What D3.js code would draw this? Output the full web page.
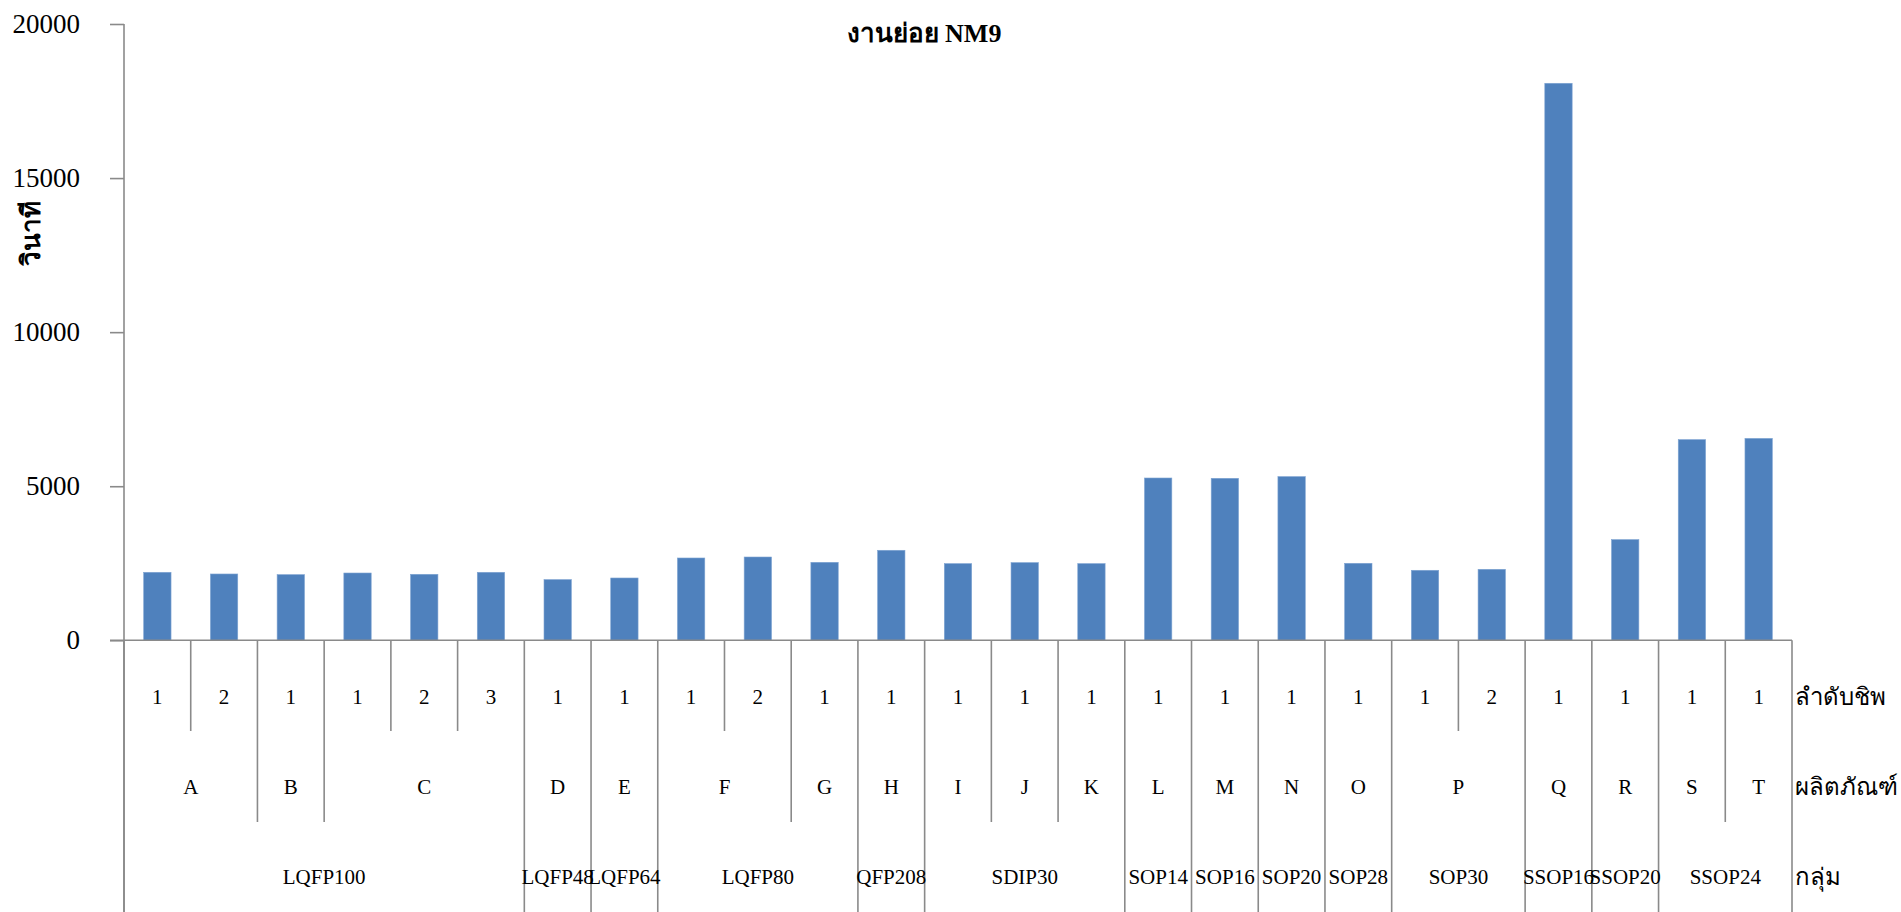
<!DOCTYPE html>
<html>
<head>
<meta charset="utf-8">
<script src="https://cdn.jsdelivr.net/npm/d3@7/dist/d3.min.js"></script>
<style>
  html, body { margin: 0; padding: 0; background: #ffffff; }
  svg { display: block; }
  text { font-family: "Liberation Serif", "Times New Roman", serif; fill: #000; }
</style>
</head>
<body>
<svg id="chart" width="1901" height="912"></svg>
<script>
// Work time per chip (seconds), one bar per chip
const chips    = ["1","2","1","1","2","3","1","1","1","2","1","1","1","1","1","1","1","1","1","1","2","1","1","1","1"];
const products = ["A","A","B","C","C","C","D","E","F","F","G","H","I","J","K","L","M","N","O","P","P","Q","R","S","T"];
const groups   = ["LQFP100","LQFP100","LQFP100","LQFP100","LQFP100","LQFP100","LQFP48","LQFP64",
                  "LQFP80","LQFP80","LQFP80","QFP208","SDIP30","SDIP30","SDIP30","SOP14","SOP16",
                  "SOP20","SOP28","SOP30","SOP30","SSOP16","SSOP20","SSOP24","SSOP24"];
const seconds  = [2207,2152,2131,2184,2142,2207,1970,2022,2671,2703,2531,2921,2489,2521,2489,
                  5267,5257,5312,2499,2272,2304,18076,3268,6513,6552];
const yTicks   = [0,5000,10000,15000,20000];
const levelNames = ["ลำดับชิพ","ผลิตภัณฑ์","กลุ่ม"];
const titleText  = "งานย่อย NM9";
const yTitle     = "วินาที";

const svg = d3.select("#chart");
const W = 1901, H = 912;
const plotLeft = 124, plotRight = 1792, plotTop = 24, plotBase = 640.3;
const axisColor = "#8a8a8a";
const barColor = "#4f81bd";
const serif = '"Liberation Serif", "Times New Roman", serif';

const idx = d3.range(seconds.length);
const slot = d3.scaleBand().domain(idx).range([plotLeft, plotRight]).padding(0);
const x = d3.scaleBand().domain(idx).range([plotLeft, plotRight]).paddingInner(0.59).paddingOuter(0.295);
const y = d3.scaleLinear().domain([0, 20000]).range([plotBase, plotTop]);

// title
svg.append("text")
  .attr("x", 924).attr("y", 42)
  .attr("text-anchor", "middle")
  .style("font-size", "26px").style("font-weight", "bold")
  .text(titleText);

// y-axis title
svg.append("text")
  .attr("transform", "translate(31,233) rotate(-90)")
  .attr("text-anchor", "middle")
  .attr("dominant-baseline", "central")
  .style("font-size", "26px").style("font-weight", "bold")
  .text(yTitle);

// bars
svg.append("g").selectAll("rect").data(idx).join("rect")
  .attr("x", i => x(i))
  .attr("width", x.bandwidth())
  .attr("y", i => y(seconds[i]))
  .attr("height", i => y(0) - y(seconds[i]))
  .attr("fill", barColor)
  .attr("stroke", "#7fa4d2").attr("stroke-width", 0.6);

// y axis
const yAxis = d3.axisLeft(y).tickValues(yTicks).tickSize(14).tickPadding(30).tickFormat(d3.format("d"));
const gy = svg.append("g").attr("transform", `translate(${plotLeft},0)`).call(yAxis)
  .attr("font-family", serif).attr("font-size", 27);
gy.select(".domain").remove();
gy.selectAll(".tick line").attr("stroke", axisColor).attr("stroke-width", 1.6);
gy.selectAll(".tick text")
  .style("font-family", serif)
  .style("font-size", "27px").attr("fill", "#000");

const lines = svg.append("g").attr("stroke", axisColor).attr("stroke-width", 1.6);
// vertical axis line running to the foot of the category table
lines.append("line").attr("x1", plotLeft).attr("x2", plotLeft).attr("y1", plotTop).attr("y2", H);
// baseline
lines.append("line").attr("x1", plotLeft - 14).attr("x2", plotRight).attr("y1", plotBase).attr("y2", plotBase);

// category dividers: chip rows short, product rows medium, group rows full
const rowChipEnd = 731, rowProdEnd = 822;
const n = seconds.length;
const bounds = d3.range(n + 1);
const bx = b => b === n ? plotRight : slot(b);
lines.selectAll("line.div").data(bounds).join("line")
  .attr("class", "div")
  .attr("x1", bx).attr("x2", bx)
  .attr("y1", plotBase)
  .attr("y2", b => {
    if (b === 0 || b === n) return H;
    if (groups[b] !== groups[b - 1]) return H;
    if (products[b] !== products[b - 1]) return rowProdEnd;
    return rowChipEnd;
  });

// spans of consecutive equal labels
function spans(arr, keyArr) {
  const out = [];
  arr.forEach((v, i) => {
    const k = keyArr ? keyArr[i] + "|" + v : v;
    const last = out[out.length - 1];
    if (last && last.key === k) last.end = i;
    else out.push({ key: k, label: v, start: i, end: i });
  });
  return out;
}
const mid = s => (slot(s.start) + slot(s.end) + slot.bandwidth()) / 2;

const rowY = [697, 787, 877];
const labelFont = "21px";

svg.append("g").selectAll("text").data(idx).join("text")
  .attr("x", i => slot(i) + slot.bandwidth() / 2)
  .attr("y", rowY[0])
  .attr("text-anchor", "middle").attr("dominant-baseline", "central")
  .style("font-size", labelFont)
  .text(i => chips[i]);

svg.append("g").selectAll("text").data(spans(products, groups)).join("text")
  .attr("x", mid).attr("y", rowY[1])
  .attr("text-anchor", "middle").attr("dominant-baseline", "central")
  .style("font-size", labelFont)
  .text(s => s.label);

svg.append("g").selectAll("text").data(spans(groups)).join("text")
  .attr("x", mid).attr("y", rowY[2])
  .attr("text-anchor", "middle").attr("dominant-baseline", "central")
  .style("font-size", labelFont)
  .text(s => s.label);

// level names to the right of the table
svg.append("g").selectAll("text").data(levelNames).join("text")
  .attr("x", plotRight + 3)
  .attr("y", (d, i) => rowY[i])
  .attr("dominant-baseline", "central")
  .style("font-size", "24px")
  .text(d => d);
</script>
</body>
</html>
